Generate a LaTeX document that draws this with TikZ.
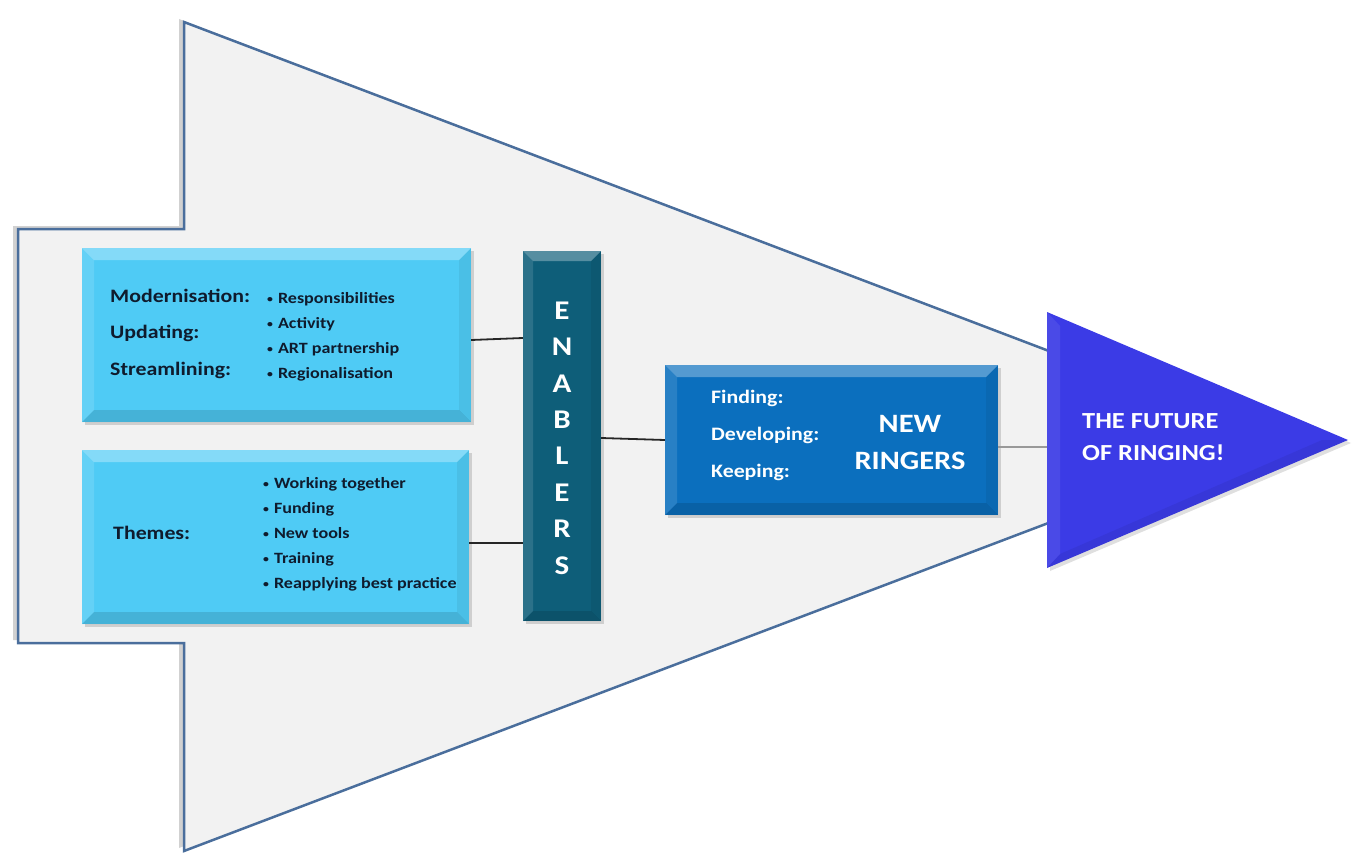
\documentclass[tikz,border=0pt]{standalone}
\usepackage{fontspec}
\setmainfont{Carlito}[FakeStretch=1.15]
\usetikzlibrary{shadows}
\definecolor{arrowfill}{HTML}{F2F2F2}
\definecolor{arrowline}{HTML}{4A6E9C}
\definecolor{lightbox}{HTML}{4FCBF5}
\definecolor{enab}{HTML}{0E5E79}
\definecolor{ringbox}{HTML}{0B6FBE}
\definecolor{future}{HTML}{3B3BE6}
\definecolor{textdark}{HTML}{0F1B2D}
\newcommand\smbul{\raisebox{0.15ex}{\scalebox{0.65}{\textbullet}}\hspace{5pt}}
\tikzset{
  bevel/.style={path picture={
    \fill[white,opacity=.3] (path picture bounding box.north west) -- (path picture bounding box.north east)
      -- ([shift={(-#1,-#1)}]path picture bounding box.north east) -- ([shift={(#1,-#1)}]path picture bounding box.north west) -- cycle;
    \fill[white,opacity=.12] (path picture bounding box.north west) -- (path picture bounding box.south west)
      -- ([shift={(#1,#1)}]path picture bounding box.south west) -- ([shift={(#1,-#1)}]path picture bounding box.north west) -- cycle;
    \fill[black,opacity=.12] (path picture bounding box.south west) -- (path picture bounding box.south east)
      -- ([shift={(-#1,#1)}]path picture bounding box.south east) -- ([shift={(#1,#1)}]path picture bounding box.south west) -- cycle;
    \fill[black,opacity=.06] (path picture bounding box.north east) -- (path picture bounding box.south east)
      -- ([shift={(-#1,#1)}]path picture bounding box.south east) -- ([shift={(-#1,-#1)}]path picture bounding box.north east) -- cycle;
  }},
  boxbase/.style={draw=none, inner sep=0pt, drop shadow={shadow xshift=3pt, shadow yshift=-3pt, opacity=.3}},
  lbox/.style={boxbase, fill=lightbox, bevel=12pt},
  ebox/.style={boxbase, fill=enab, bevel=10pt},
  rbox/.style={boxbase, fill=ringbox, bevel=12pt},
  dlabel/.style={font=\bfseries\fontsize{19}{36.5}\selectfont, text=textdark, align=left, anchor=west, inner sep=0pt},
  blist/.style={font=\bfseries\fontsize{15.7}{25}\selectfont, text=textdark, align=left, anchor=west, inner sep=0pt},
  wlabel/.style={font=\bfseries\fontsize{19}{37}\selectfont, text=white, align=left, anchor=west, inner sep=0pt},
  conn/.style={draw=black!85, line width=1.8pt},
  thinconn/.style={draw=gray!80, line width=1.3pt},
}
\begin{document}
\begin{tikzpicture}[x=1pt,y=-1pt]
\useasboundingbox (0,0) rectangle (1357,856);
% big arrow
\path[fill=arrowfill, draw=arrowline, line width=2.5pt, line join=miter,
  drop shadow={shadow xshift=-5pt, shadow yshift=3pt, opacity=.3, fill=black!60}]
  (184,22) -- (1275,437) -- (184,851) -- (184,643) -- (18,643) -- (18,229) -- (184,229) -- cycle;
% boxes
\node[lbox, minimum width=389pt, minimum height=174pt] (mod) at (276.5,335) {};
\node[lbox, minimum width=387pt, minimum height=174pt] (thm) at (275.5,537) {};
\node[ebox, minimum width=78pt, minimum height=370pt] (en) at (562,436) {};
\node[rbox, minimum width=333pt, minimum height=150pt] (nr) at (831.5,440) {};
% future triangle
\path[fill=future, drop shadow={shadow xshift=3pt, shadow yshift=-3pt, opacity=.25}] (1047,312) -- (1348,440) -- (1047,568) -- cycle;
\fill[white,opacity=.08] (1047,312) -- (1060,326) -- (1060,554) -- (1047,568) -- cycle;
\fill[black,opacity=.06] (1047,568) -- (1060,554) -- (1322,440) -- (1348,440) -- cycle;
\coordinate (fut) at (1047,447);
\node[font=\bfseries\fontsize{23}{32}\selectfont, text=white, align=left, anchor=west, inner sep=0pt] (futtext) at (1082,437) {THE FUTURE\\OF RINGING!};
% texts
\node[dlabel] (modl) at (110,333.5) {Modernisation:\\Updating:\\Streamlining:};
\node[blist] (modb) at (267,336.5) {\smbul Responsibilities\\\smbul Activity\\\smbul ART partnership\\\smbul Regionalisation};
\node[dlabel] (thml) at (113,533) {Themes:};
\node[blist] (thmb) at (263,534) {\smbul Working together\\\smbul Funding\\\smbul New tools\\\smbul Training\\\smbul Reapplying best practice};
\node[font=\bfseries\fontsize{27}{36.4}\selectfont, text=white, align=center, inner sep=0pt] (entext) at (562,438) {E\\N\\A\\B\\L\\E\\R\\S};
\node[wlabel] (nrl) at (711,435) {Finding:\\Developing:\\Keeping:};
\node[font=\bfseries\fontsize{26.5}{37}\selectfont, text=white, align=center, inner sep=0pt] (nrt) at (910,442) {NEW\\RINGERS};
% connectors
\draw[conn] (mod.east |- 0,340) -- (en.west |- 0,338);
\draw[conn] (thm.east |- 0,543) -- (en.west |- 0,543);
\draw[conn] (en.east |- 0,438) -- (nr.west |- 0,440);
\draw[thinconn] (nr.east |- 0,447) -- (fut);
\end{tikzpicture}
\end{document}
